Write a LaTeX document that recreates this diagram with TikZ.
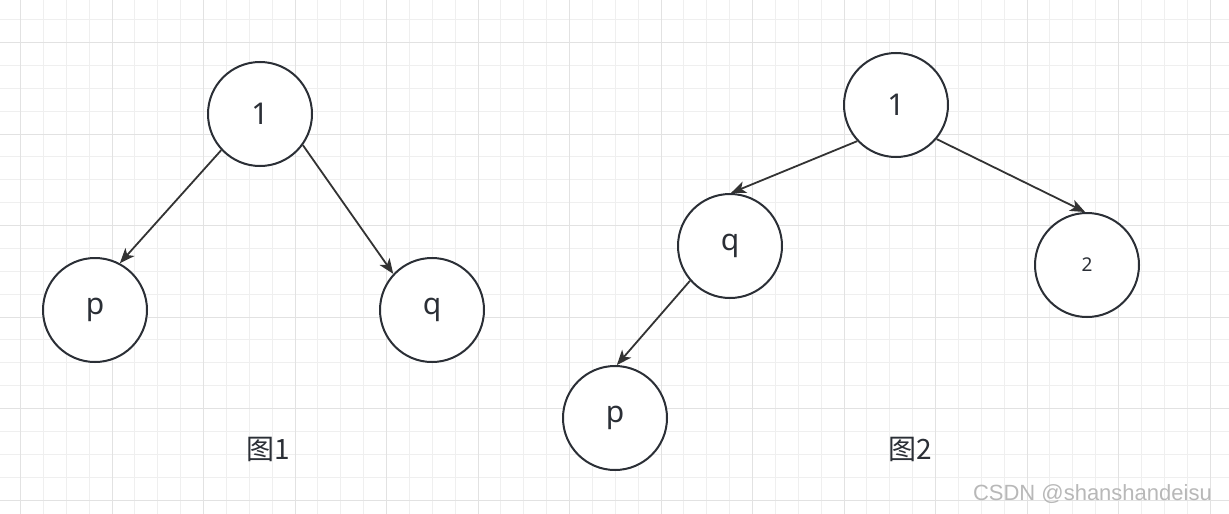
\documentclass[tikz,border=0pt]{standalone}
\usepackage{fontspec}
\setmainfont{Noto Sans}
\newfontfamily\cjk{Noto Sans CJK SC}
\newfontfamily\wmfont{Liberation Sans}
\usetikzlibrary{arrows.meta}
\definecolor{minorgrid}{HTML}{EFEFEF}
\definecolor{majorgrid}{HTML}{E2E2E2}
\definecolor{ink}{HTML}{2B2F36}
\definecolor{edge}{HTML}{333333}
\tikzset{
  treenode/.style={circle, draw=ink, line width=2pt, fill=white, minimum size=104pt, inner sep=0pt, text=ink, font=\fontsize{30}{34}\selectfont},
  conn/.style={draw=edge, line width=1.8pt, -{Stealth[length=15pt,width=12pt,inset=4pt]}},
  caption/.style={text=ink, font=\fontsize{28}{32}\selectfont\cjk},
  minorline/.style={draw=minorgrid, line width=1.2pt},
  majorline/.style={draw=majorgrid, line width=1.5pt},
}
\begin{document}
\begin{tikzpicture}[x=1pt,y=-1pt]
\useasboundingbox (0,0) rectangle (1229,514);
\fill[white] (0,0) rectangle (1229,514);
% grid
\foreach \i in {0,...,54} {
  \pgfmathsetmacro\xx{round(-2.875+22.875*\i)+0.5}
  \draw[minorline] (\xx,0) -- (\xx,514);
}
\foreach \j in {0,...,23} {
  \pgfmathsetmacro\yy{round(19.125+22.875*\j)+0.5}
  \draw[minorline] (0,\yy) -- (1229,\yy);
}
\foreach \i in {0,...,13} {
  \pgfmathsetmacro\xx{round(20+91.5*\i)+0.5}
  \draw[majorline] (\xx,0) -- (\xx,514);
}
\foreach \j in {0,...,5} {
  \pgfmathsetmacro\yy{round(42+91.5*\j)+0.5}
  \draw[majorline] (0,\yy) -- (1229,\yy);
}
% figure 1
\node[treenode] (aroot) at (260,114) {1};
\node[treenode] (ap) at (95,310) {p};
\node[treenode] (aq) at (432,310) {q};
\draw[conn] (aroot.-137) -- (ap.62);
\draw[conn] (aroot.-36) -- (aq.137);
\node[caption] (cap1) at (268,449) {图1};
% figure 2
\node[treenode] (broot) at (896,105) {1};
\node[treenode] (bq) at (730,246) {q};
\node[treenode, font=\fontsize{19}{22}\selectfont] (btwo) at (1087,265) {2};
\node[treenode] (bp) at (615,418) {p};
\draw[conn] (broot.-137) -- (bq.89);
\draw[conn] (broot.-40) -- (btwo.92);
\draw[conn] (bq.-139) -- (bp.88);
\node[caption] (cap2) at (910,449) {图2};
% watermark
\node[text=black!28, font=\fontsize{22}{26}\selectfont\wmfont, anchor=east, inner sep=0pt] (wm) at (1212,494) {CSDN @shanshandeisu};
\end{tikzpicture}
\end{document}
